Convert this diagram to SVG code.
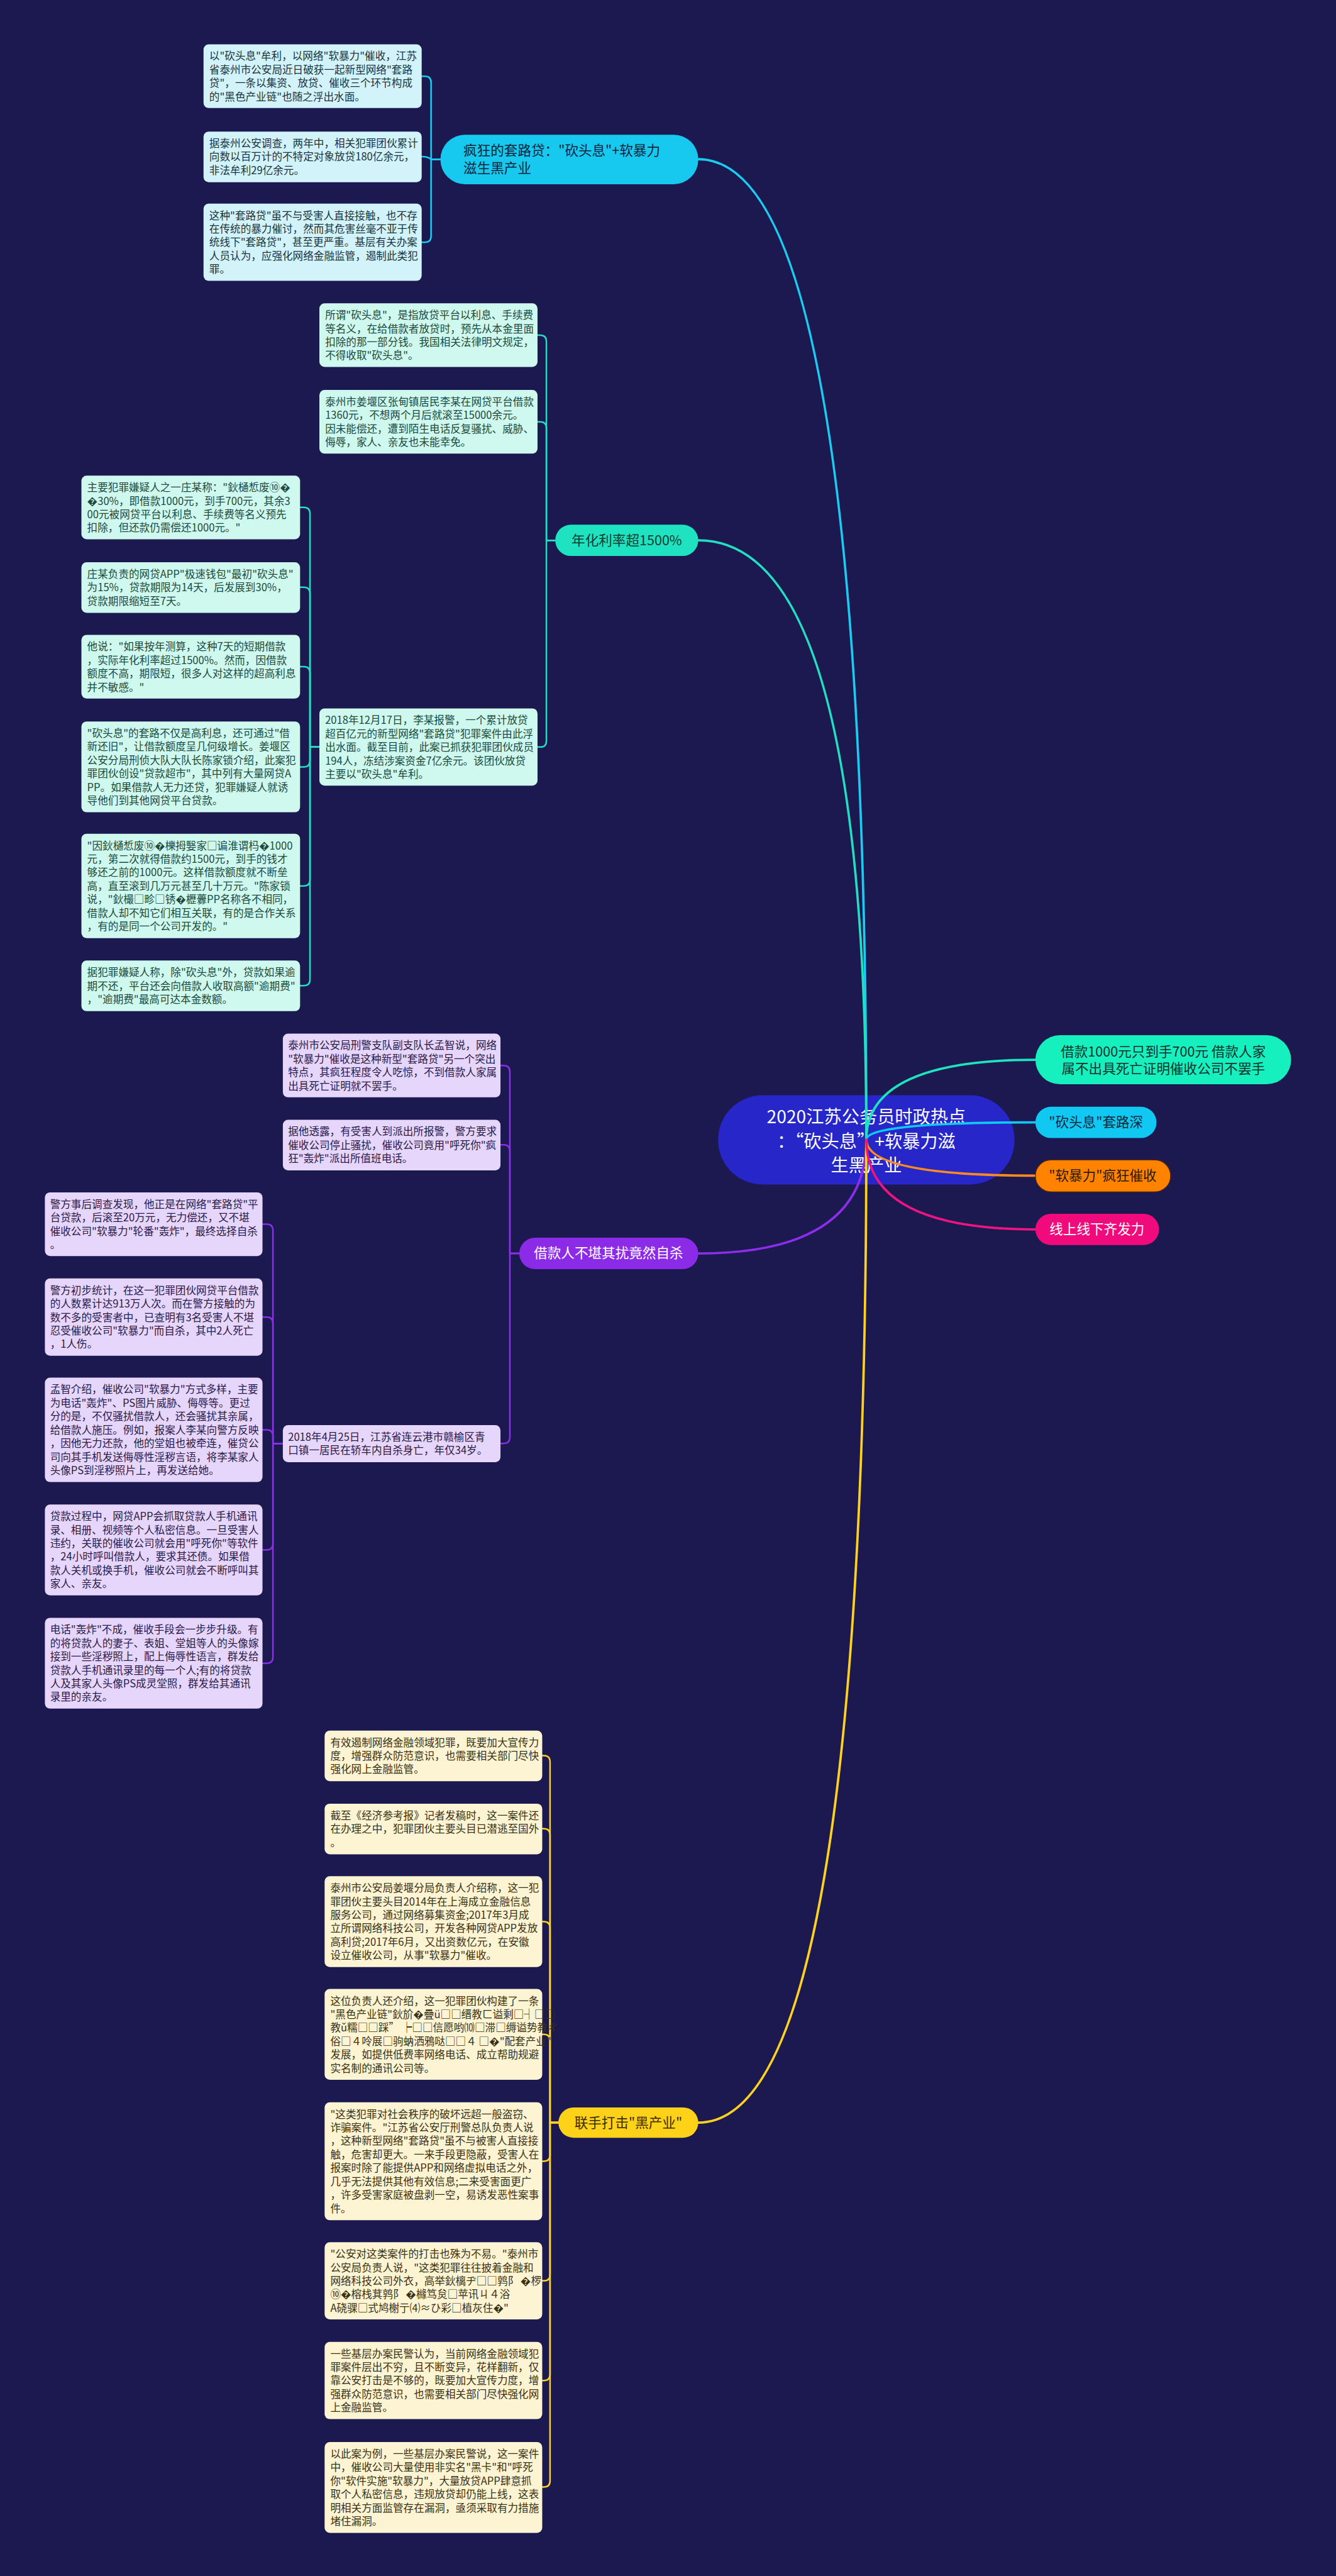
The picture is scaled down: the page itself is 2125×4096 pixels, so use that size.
<svg xmlns="http://www.w3.org/2000/svg" width="2125" height="4096" viewBox="0 0 2125 4096">
<style>
text{font-family:"Noto Sans CJK SC","Noto Sans",sans-serif;}
.bx{font-size:20px;}
.c1 rect{fill:#D3F3FB}.c1 text{fill:#1a3340}
.c2 rect{fill:#CFF8EE}.c2 text{fill:#1b4a3e}
.c3 rect{fill:#E6D6FB}.c3 text{fill:#2b1a4c}
.c4 rect{fill:#FCF4D2}.c4 text{fill:#3b3214}
.lk{fill:none;stroke-width:3;stroke-linecap:round;stroke-linejoin:round}
.mk{fill:none;stroke-width:4.5;stroke-linecap:round}
.nd{font-size:26px}
</style>
<rect width="2125" height="4096" fill="#1b1950"/>
<g transform="scale(0.83008)">

<g id="root">
<rect x="1376" y="2098" width="568" height="171" rx="85" fill="#2626C9"/>
<text x="1660" y="2152" font-size="34" fill="#ffffff" text-anchor="middle"><tspan x="1660">2020江苏公务员时政热点</tspan><tspan x="1660" dy="46">：“砍头息”+软暴力滋</tspan><tspan x="1660" dy="46">生黑产业</tspan></text>
</g>

<g id="connectors">
<path class="mk" stroke="#1ACCF0" d="M1338 305 Q1660 305 1660 2183"/>
<path class="mk" stroke="#23DFC2" d="M1338 1035 Q1660 1035 1660 2183"/>
<path class="mk" stroke="#8B2EEA" d="M1338 2401 Q1660 2401 1660 2183"/>
<path class="mk" stroke="#FFD21F" d="M1338 4066 Q1660 4066 1660 2183"/>
<path class="mk" stroke="#1CE5BE" d="M1660 2183 Q1660 2030 1984 2030"/>
<path class="mk" stroke="#10C8F2" d="M1660 2183 Q1660 2150 1984 2150"/>
<path class="mk" stroke="#FF8A20" d="M1660 2183 Q1660 2252 1984 2252"/>
<path class="mk" stroke="#EE1482" d="M1660 2183 Q1660 2355 1984 2355"/>

<g stroke="#1ACCF0">
<path class="lk" d="M844 305 H826 V158 Q826 146 814 146 H808"/>
<path class="lk" d="M844 305 H826 Q820 300 808 300"/>
<path class="lk" d="M844 305 H826 V452 Q826 464 814 464 H808"/>
</g>
<g stroke="#23DFC2">
<path class="lk" d="M1064 1035 H1047 V654 Q1047 642 1035 642 H1030"/>
<path class="lk" d="M1064 1035 H1047 V820 Q1047 808 1035 808 H1030"/>
<path class="lk" d="M1064 1035 H1047 V1419 Q1047 1431 1035 1431 H1030"/>
<path class="lk" d="M612 1431 H594 V984 Q594 972 582 972 H575"/>
<path class="lk" d="M612 1431 H594 V1137 Q594 1125 582 1125 H575"/>
<path class="lk" d="M612 1431 H594 V1289 Q594 1277 582 1277 H575"/>
<path class="lk" d="M612 1431 H594 V1457 Q594 1469 582 1469 H575"/>
<path class="lk" d="M612 1431 H594 V1685 Q594 1697 582 1697 H575"/>
<path class="lk" d="M612 1431 H594 V1876 Q594 1888 582 1888 H575"/>
</g>
<g stroke="#8B2EEA">
<path class="lk" d="M995 2401 H977 V2053 Q977 2041 965 2041 H959"/>
<path class="lk" d="M995 2401 H977 V2205 Q977 2193 965 2193 H959"/>
<path class="lk" d="M995 2401 H977 V2753 Q977 2765 965 2765 H959"/>
<path class="lk" d="M542 2765 H523 V2357 Q523 2345 511 2345 H503"/>
<path class="lk" d="M542 2765 H523 V2535 Q523 2523 511 2523 H503"/>
<path class="lk" d="M542 2765 H523 V2751 Q523 2739 511 2739 H503"/>
<path class="lk" d="M542 2765 H523 V2957 Q523 2969 511 2969 H503"/>
<path class="lk" d="M542 2765 H523 V3174 Q523 3186 511 3186 H503"/>
</g>
<g stroke="#FFD21F">
<path class="lk" d="M1070 4066 H1054 V3375 Q1054 3363 1042 3363 H1039"/>
<path class="lk" d="M1070 4066 H1054 V3515 Q1054 3503 1042 3503 H1039"/>
<path class="lk" d="M1070 4066 H1054 V3693 Q1054 3681 1042 3681 H1039"/>
<path class="lk" d="M1070 4066 H1054 V3909 Q1054 3897 1042 3897 H1039"/>
<path class="lk" d="M1070 4066 H1054 V4128 Q1054 4140 1042 4140 H1039"/>
<path class="lk" d="M1070 4066 H1054 V4357 Q1054 4369 1042 4369 H1039"/>
<path class="lk" d="M1070 4066 H1054 V4548 Q1054 4560 1042 4560 H1039"/>
<path class="lk" d="M1070 4066 H1054 V4752 Q1054 4764 1042 4764 H1039"/>
</g>
</g>

<g id="r1"><rect x="1984" y="1983" width="490" height="94" rx="47" fill="#16F0BE"/><text class="nd" x="2229" y="2024" fill="#14302a" text-anchor="middle"><tspan x="2229">借款1000元只到手700元 借款人家</tspan><tspan x="2229" dy="33">属不出具死亡证明催收公司不罢手</tspan></text></g>
<g id="r2"><rect x="1984" y="2120" width="232" height="60" rx="30" fill="#10C8F2"/><text class="nd" x="2100" y="2159" fill="#10283a" text-anchor="middle">"砍头息"套路深</text></g>
<g id="r3"><rect x="1984" y="2222" width="259" height="61" rx="30" fill="#FF8200" stroke="#5a2a00" stroke-width="1.5"/><text class="nd" x="2113" y="2261" fill="#2a1a08" text-anchor="middle">"软暴力"疯狂催收</text></g>
<g id="r4"><rect x="1984" y="2325" width="237" height="60" rx="30" fill="#F00A7C"/><text class="nd" x="2102" y="2364" fill="#ffffff" text-anchor="middle">线上线下齐发力</text></g>

<g id="b1"><rect x="844" y="258" width="494" height="95" rx="47" fill="#17C8EF"/><text class="nd" x="888" y="297" fill="#10243a"><tspan x="888">疯狂的套路贷："砍头息"+软暴力</tspan><tspan x="888" dy="34">滋生黑产业</tspan></text></g>
<g id="b2"><rect x="1064" y="1005" width="274" height="60" rx="30" fill="#1FE3C0"/><text class="nd" x="1201" y="1044" fill="#123a30" text-anchor="middle">年化利率超1500%</text></g>
<g id="b3"><rect x="995" y="2371" width="343" height="60" rx="30" fill="#8B2BE8"/><text class="nd" x="1166" y="2410" fill="#ffffff" text-anchor="middle">借款人不堪其扰竟然自杀</text></g>
<g id="b4"><rect x="1070" y="4037" width="268" height="58" rx="29" fill="#FFD21A"/><text class="nd" x="1204" y="4075" fill="#3a2a00" text-anchor="middle">联手打击"黑产业"</text></g>

<g class="c1">
<g id="t1"><rect x="390" y="85" width="418" height="122" rx="10"/><text class="bx" x="401" y="115"><tspan x="401">以"砍头息"牟利，以网络"软暴力"催收，江苏</tspan><tspan x="401" dy="25.8">省泰州市公安局近日破获一起新型网络"套路</tspan><tspan x="401" dy="25.8">贷"，一条以集资、放贷、催收三个环节构成</tspan><tspan x="401" dy="25.8">的"黑色产业链"也随之浮出水面。</tspan></text></g>
<g id="t2"><rect x="390" y="252" width="418" height="97" rx="10"/><text class="bx" x="401" y="282"><tspan x="401">据泰州公安调查，两年中，相关犯罪团伙累计</tspan><tspan x="401" dy="25.8">向数以百万计的不特定对象放贷180亿余元，</tspan><tspan x="401" dy="25.8">非法牟利29亿余元。</tspan></text></g>
<g id="t3"><rect x="390" y="390" width="418" height="148" rx="10"/><text class="bx" x="401" y="420"><tspan x="401">这种"套路贷"虽不与受害人直接接触，也不存</tspan><tspan x="401" dy="25.8">在传统的暴力催讨，然而其危害丝毫不亚于传</tspan><tspan x="401" dy="25.8">统线下"套路贷"，甚至更严重。基层有关办案</tspan><tspan x="401" dy="25.8">人员认为，应强化网络金融监管，遏制此类犯</tspan><tspan x="401" dy="25.8">罪。</tspan></text></g>
</g>

<g class="c2">
<g id="a1"><rect x="612" y="581" width="418" height="122" rx="10"/><text class="bx" x="623" y="611"><tspan x="623">所谓"砍头息"，是指放贷平台以利息、手续费</tspan><tspan x="623" dy="25.8">等名义，在给借款者放贷时，预先从本金里面</tspan><tspan x="623" dy="25.8">扣除的那一部分钱。我国相关法律明文规定，</tspan><tspan x="623" dy="25.8">不得收取"砍头息"。</tspan></text></g>
<g id="a2"><rect x="612" y="747" width="418" height="122" rx="10"/><text class="bx" x="623" y="777"><tspan x="623">泰州市姜堰区张甸镇居民李某在网贷平台借款</tspan><tspan x="623" dy="25.8">1360元，不想两个月后就滚至15000余元。</tspan><tspan x="623" dy="25.8">因未能偿还，遭到陌生电话反复骚扰、威胁、</tspan><tspan x="623" dy="25.8">侮辱，家人、亲友也未能幸免。</tspan></text></g>
<g id="a3"><rect x="612" y="1357" width="418" height="148" rx="10"/><text class="bx" x="623" y="1387"><tspan x="623">2018年12月17日，李某报警，一个累计放贷</tspan><tspan x="623" dy="25.8">超百亿元的新型网络"套路贷"犯罪案件由此浮</tspan><tspan x="623" dy="25.8">出水面。截至目前，此案已抓获犯罪团伙成员</tspan><tspan x="623" dy="25.8">194人，冻结涉案资金7亿余元。该团伙放贷</tspan><tspan x="623" dy="25.8">主要以"砍头息"牟利。</tspan></text></g>
<g id="l1"><rect x="156" y="911" width="419" height="122" rx="10"/><text class="bx" x="167" y="941"><tspan x="167">主要犯罪嫌疑人之一庄某称："鈥樋惁废⑩�</tspan><tspan x="167" dy="25.8">�30%，即借款1000元，到手700元，其余3</tspan><tspan x="167" dy="25.8">00元被网贷平台以利息、手续费等名义预先</tspan><tspan x="167" dy="25.8">扣除，但还款仍需偿还1000元。"</tspan></text></g>
<g id="l2"><rect x="156" y="1077" width="419" height="97" rx="10"/><text class="bx" x="167" y="1107"><tspan x="167">庄某负责的网贷APP"极速钱包"最初"砍头息"</tspan><tspan x="167" dy="25.8">为15%，贷款期限为14天，后发展到30%，</tspan><tspan x="167" dy="25.8">贷款期限缩短至7天。</tspan></text></g>
<g id="l3"><rect x="156" y="1216" width="419" height="122" rx="10"/><text class="bx" x="167" y="1246"><tspan x="167">他说："如果按年测算，这种7天的短期借款</tspan><tspan x="167" dy="25.8">，实际年化利率超过1500%。然而，因借款</tspan><tspan x="167" dy="25.8">额度不高，期限短，很多人对这样的超高利息</tspan><tspan x="167" dy="25.8">并不敏感。"</tspan></text></g>
<g id="l4"><rect x="156" y="1382" width="419" height="174" rx="10"/><text class="bx" x="167" y="1412"><tspan x="167">"砍头息"的套路不仅是高利息，还可通过"借</tspan><tspan x="167" dy="25.8">新还旧"，让借款额度呈几何级增长。姜堰区</tspan><tspan x="167" dy="25.8">公安分局刑侦大队大队长陈家锁介绍，此案犯</tspan><tspan x="167" dy="25.8">罪团伙创设"贷款超市"，其中列有大量网贷A</tspan><tspan x="167" dy="25.8">PP。如果借款人无力还贷，犯罪嫌疑人就诱</tspan><tspan x="167" dy="25.8">导他们到其他网贷平台贷款。</tspan></text></g>
<g id="l5"><rect x="156" y="1597" width="419" height="200" rx="10"/><text class="bx" x="167" y="1627"><tspan x="167">"因鈥樋惁废⑩�櫟拇嫛家□谝淮谓杩�1000</tspan><tspan x="167" dy="25.8">元，第二次就得借款约1500元，到手的钱才</tspan><tspan x="167" dy="25.8">够还之前的1000元。这样借款额度就不断垒</tspan><tspan x="167" dy="25.8">高，直至滚到几万元甚至几十万元。"陈家锁</tspan><tspan x="167" dy="25.8">说，"鈥樶□畛□锈�櫪虋PP名称各不相同，</tspan><tspan x="167" dy="25.8">借款人却不知它们相互关联，有的是合作关系</tspan><tspan x="167" dy="25.8">，有的是同一个公司开发的。"</tspan></text></g>
<g id="l6"><rect x="156" y="1840" width="419" height="97" rx="10"/><text class="bx" x="167" y="1870"><tspan x="167">据犯罪嫌疑人称，除"砍头息"外，贷款如果逾</tspan><tspan x="167" dy="25.8">期不还，平台还会向借款人收取高额"逾期费"</tspan><tspan x="167" dy="25.8">，"逾期费"最高可达本金数额。</tspan></text></g>
</g>

<g class="c3">
<g id="p1"><rect x="542" y="1980" width="417" height="122" rx="10"/><text class="bx" x="552" y="2010"><tspan x="552">泰州市公安局刑警支队副支队长孟智说，网络</tspan><tspan x="552" dy="25.8">"软暴力"催收是这种新型"套路贷"另一个突出</tspan><tspan x="552" dy="25.8">特点，其疯狂程度令人吃惊，不到借款人家属</tspan><tspan x="552" dy="25.8">出具死亡证明就不罢手。</tspan></text></g>
<g id="p2"><rect x="542" y="2145" width="417" height="97" rx="10"/><text class="bx" x="552" y="2175"><tspan x="552">据他透露，有受害人到派出所报警，警方要求</tspan><tspan x="552" dy="25.8">催收公司停止骚扰，催收公司竟用"呼死你"疯</tspan><tspan x="552" dy="25.8">狂"轰炸"派出所值班电话。</tspan></text></g>
<g id="p3"><rect x="542" y="2730" width="417" height="71" rx="10"/><text class="bx" x="552" y="2760"><tspan x="552">2018年4月25日，江苏省连云港市赣榆区青</tspan><tspan x="552" dy="25.8">口镇一居民在轿车内自杀身亡，年仅34岁。</tspan></text></g>
<g id="q1"><rect x="86" y="2284" width="417" height="122" rx="10"/><text class="bx" x="96" y="2314"><tspan x="96">警方事后调查发现，他正是在网络"套路贷"平</tspan><tspan x="96" dy="25.8">台贷款，后滚至20万元，无力偿还，又不堪</tspan><tspan x="96" dy="25.8">催收公司"软暴力"轮番"轰炸"，最终选择自杀</tspan><tspan x="96" dy="25.8">。</tspan></text></g>
<g id="q2"><rect x="86" y="2449" width="417" height="148" rx="10"/><text class="bx" x="96" y="2479"><tspan x="96">警方初步统计，在这一犯罪团伙网贷平台借款</tspan><tspan x="96" dy="25.8">的人数累计达913万人次。而在警方接触的为</tspan><tspan x="96" dy="25.8">数不多的受害者中，已查明有3名受害人不堪</tspan><tspan x="96" dy="25.8">忍受催收公司"软暴力"而自杀，其中2人死亡</tspan><tspan x="96" dy="25.8">，1人伤。</tspan></text></g>
<g id="q3"><rect x="86" y="2639" width="417" height="200" rx="10"/><text class="bx" x="96" y="2669"><tspan x="96">孟智介绍，催收公司"软暴力"方式多样，主要</tspan><tspan x="96" dy="25.8">为电话"轰炸"、PS图片威胁、侮辱等。更过</tspan><tspan x="96" dy="25.8">分的是，不仅骚扰借款人，还会骚扰其亲属，</tspan><tspan x="96" dy="25.8">给借款人施压。例如，报案人李某向警方反映</tspan><tspan x="96" dy="25.8">，因他无力还款，他的堂姐也被牵连，催贷公</tspan><tspan x="96" dy="25.8">司向其手机发送侮辱性淫秽言语，将李某家人</tspan><tspan x="96" dy="25.8">头像PS到淫秽照片上，再发送给她。</tspan></text></g>
<g id="q4"><rect x="86" y="2882" width="417" height="174" rx="10"/><text class="bx" x="96" y="2912"><tspan x="96">贷款过程中，网贷APP会抓取贷款人手机通讯</tspan><tspan x="96" dy="25.8">录、相册、视频等个人私密信息。一旦受害人</tspan><tspan x="96" dy="25.8">违约，关联的催收公司就会用"呼死你"等软件</tspan><tspan x="96" dy="25.8">，24小时呼叫借款人，要求其还债。如果借</tspan><tspan x="96" dy="25.8">款人关机或换手机，催收公司就会不断呼叫其</tspan><tspan x="96" dy="25.8">家人、亲友。</tspan></text></g>
<g id="q5"><rect x="86" y="3099" width="417" height="174" rx="10"/><text class="bx" x="96" y="3129"><tspan x="96">电话"轰炸"不成，催收手段会一步步升级。有</tspan><tspan x="96" dy="25.8">的将贷款人的妻子、表姐、堂姐等人的头像嫁</tspan><tspan x="96" dy="25.8">接到一些淫秽照上，配上侮辱性语言，群发给</tspan><tspan x="96" dy="25.8">贷款人手机通讯录里的每一个人;有的将贷款</tspan><tspan x="96" dy="25.8">人及其家人头像PS成灵堂照，群发给其通讯</tspan><tspan x="96" dy="25.8">录里的亲友。</tspan></text></g>
</g>

<g class="c4">
<g id="y1"><rect x="622" y="3315" width="417" height="97" rx="10"/><text class="bx" x="633" y="3345"><tspan x="633">有效遏制网络金融领域犯罪，既要加大宣传力</tspan><tspan x="633" dy="25.8">度，增强群众防范意识，也需要相关部门尽快</tspan><tspan x="633" dy="25.8">强化网上金融监管。</tspan></text></g>
<g id="y2"><rect x="622" y="3455" width="417" height="97" rx="10"/><text class="bx" x="633" y="3485"><tspan x="633">截至《经济参考报》记者发稿时，这一案件还</tspan><tspan x="633" dy="25.8">在办理之中，犯罪团伙主要头目已潜逃至国外</tspan><tspan x="633" dy="25.8">。</tspan></text></g>
<g id="y3"><rect x="622" y="3594" width="417" height="174" rx="10"/><text class="bx" x="633" y="3624"><tspan x="633">泰州市公安局姜堰分局负责人介绍称，这一犯</tspan><tspan x="633" dy="25.8">罪团伙主要头目2014年在上海成立金融信息</tspan><tspan x="633" dy="25.8">服务公司，通过网络募集资金;2017年3月成</tspan><tspan x="633" dy="25.8">立所谓网络科技公司，开发各种网贷APP发放</tspan><tspan x="633" dy="25.8">高利贷;2017年6月，又出资数亿元，在安徽</tspan><tspan x="633" dy="25.8">设立催收公司，从事"软暴力"催收。</tspan></text></g>
<g id="y4"><rect x="622" y="3810" width="417" height="174" rx="10"/><text class="bx" x="633" y="3840"><tspan x="633">这位负责人还介绍，这一犯罪团伙构建了一条</tspan><tspan x="633" dy="25.8">"黑色产业链"鈥斺�疊ü□□缙教ㄈ谥剩□┤□□</tspan><tspan x="633" dy="25.8">教ǔ糯□□踩” ┝□□信愿哟⑽□滞□缛谥势教ㄔ</tspan><tspan x="633" dy="25.8">俗□４呤展□驹蚋洒鴉哒□□４ □�"配套产业"</tspan><tspan x="633" dy="25.8">发展，如提供低费率网络电话、成立帮助规避</tspan><tspan x="633" dy="25.8">实名制的通讯公司等。</tspan></text></g>
<g id="y5"><rect x="622" y="4027" width="417" height="226" rx="10"/><text class="bx" x="633" y="4057"><tspan x="633">"这类犯罪对社会秩序的破坏远超一般盗窃、</tspan><tspan x="633" dy="25.8">诈骗案件。"江苏省公安厅刑警总队负责人说</tspan><tspan x="633" dy="25.8">，这种新型网络"套路贷"虽不与被害人直接接</tspan><tspan x="633" dy="25.8">触，危害却更大。一来手段更隐蔽，受害人在</tspan><tspan x="633" dy="25.8">报案时除了能提供APP和网络虚拟电话之外，</tspan><tspan x="633" dy="25.8">几乎无法提供其他有效信息;二来受害面更广</tspan><tspan x="633" dy="25.8">，许多受害家庭被盘剥一空，易诱发恶性案事</tspan><tspan x="633" dy="25.8">件。</tspan></text></g>
<g id="y6"><rect x="622" y="4295" width="417" height="148" rx="10"/><text class="bx" x="633" y="4325"><tspan x="633">"公安对这类案件的打击也殊为不易。"泰州市</tspan><tspan x="633" dy="25.8">公安局负责人说，"这类犯罪往往披着金融和</tspan><tspan x="633" dy="25.8">网络科技公司外衣，高举鈥樆ヂ□□鹑阝 �椤</tspan><tspan x="633" dy="25.8">⑩�榕栈萁鹑阝 �櫞笃炱□苹讯ㄐ４浴</tspan><tspan x="633" dy="25.8">Α硗骒□式鸠榭亍⑷≈ひ彩□植灰住�"</tspan></text></g>
<g id="y7"><rect x="622" y="4486" width="417" height="148" rx="10"/><text class="bx" x="633" y="4516"><tspan x="633">一些基层办案民警认为，当前网络金融领域犯</tspan><tspan x="633" dy="25.8">罪案件层出不穷，且不断变异，花样翻新，仅</tspan><tspan x="633" dy="25.8">靠公安打击是不够的，既要加大宣传力度，增</tspan><tspan x="633" dy="25.8">强群众防范意识，也需要相关部门尽快强化网</tspan><tspan x="633" dy="25.8">上金融监管。</tspan></text></g>
<g id="y8"><rect x="622" y="4678" width="417" height="174" rx="10"/><text class="bx" x="633" y="4708"><tspan x="633">以此案为例，一些基层办案民警说，这一案件</tspan><tspan x="633" dy="25.8">中，催收公司大量使用非实名"黑卡"和"呼死</tspan><tspan x="633" dy="25.8">你"软件实施"软暴力"，大量放贷APP肆意抓</tspan><tspan x="633" dy="25.8">取个人私密信息，违规放贷却仍能上线，这表</tspan><tspan x="633" dy="25.8">明相关方面监管存在漏洞，亟须采取有力措施</tspan><tspan x="633" dy="25.8">堵住漏洞。</tspan></text></g>
</g>

</g>
</svg>
